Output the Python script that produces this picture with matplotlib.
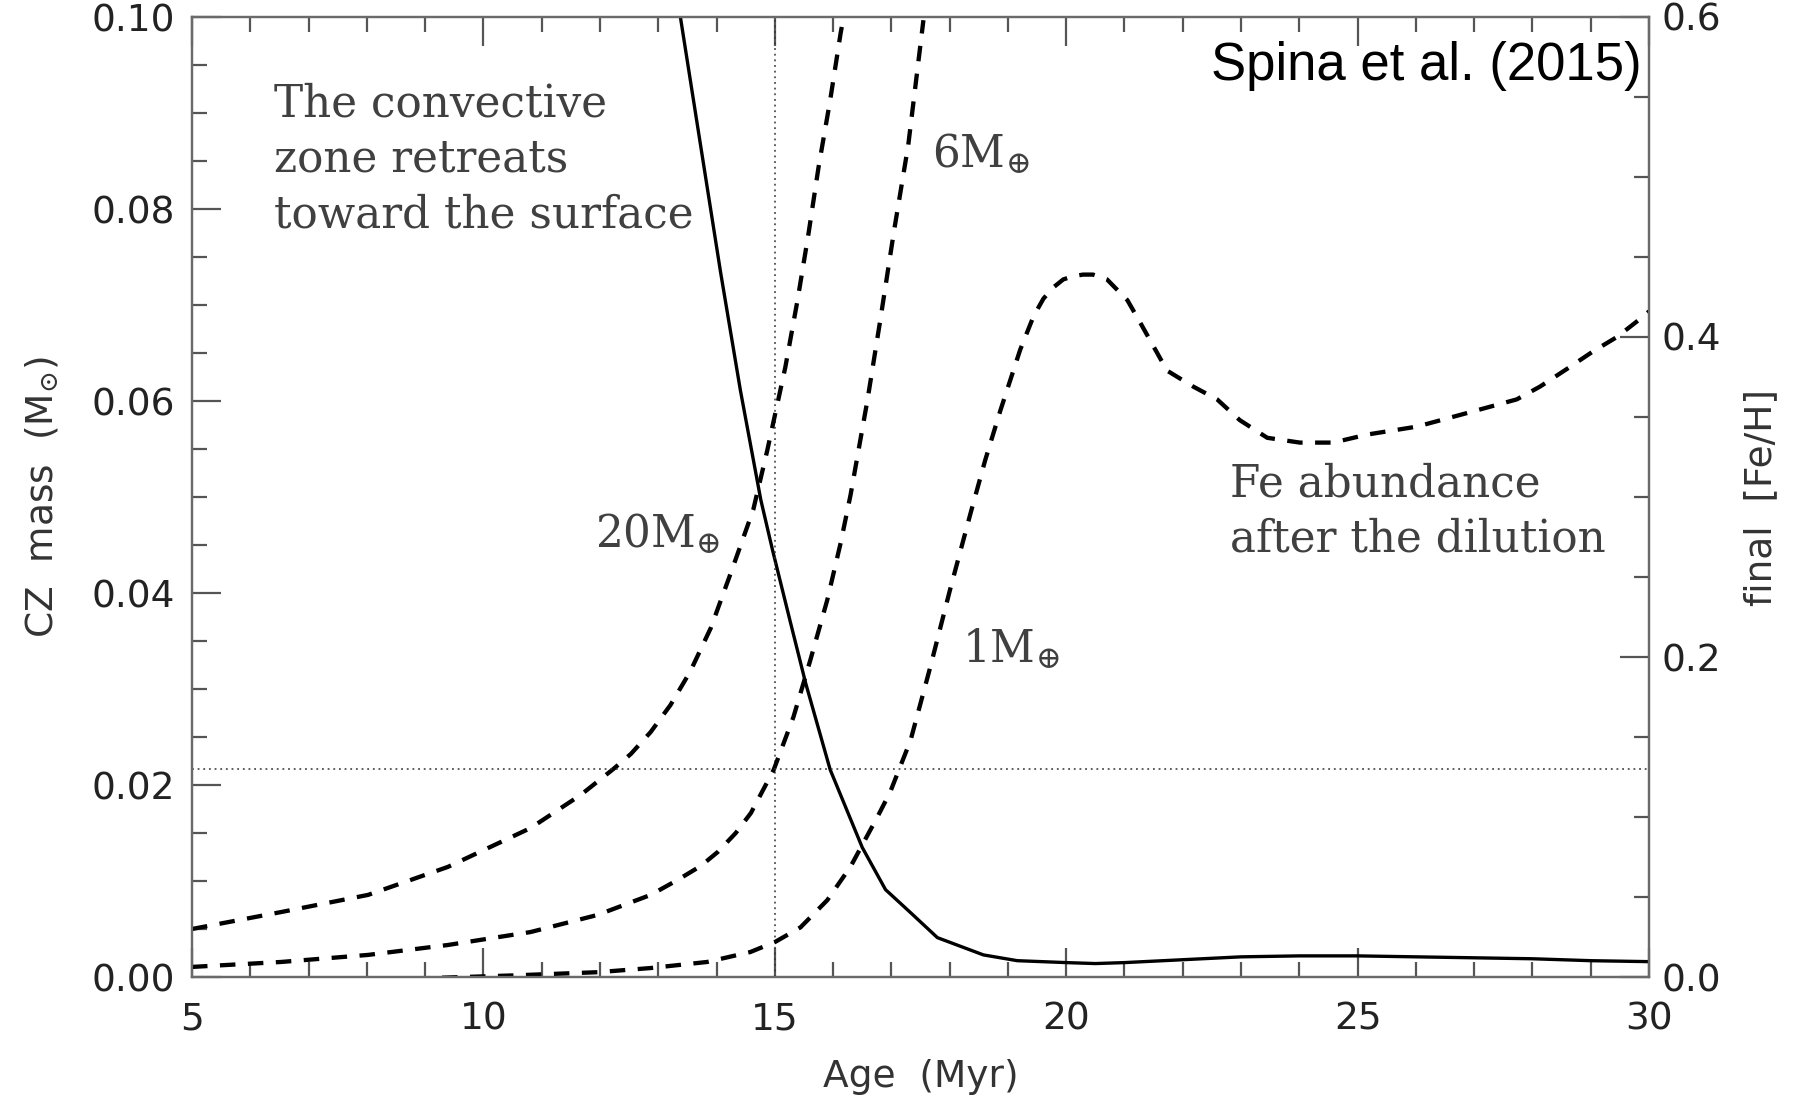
import matplotlib
matplotlib.use("Agg")
import matplotlib.pyplot as plt
from matplotlib.ticker import MultipleLocator, FormatStrFormatter

plt.rcParams['mathtext.fontset'] = 'dejavuserif'

# convective zone mass (left axis, Msun)
cz_age = [13.38, 13.73, 14.07, 14.41, 14.76, 14.96, 15.27, 15.53, 15.95, 16.50,
          16.90, 17.33, 17.79, 18.58, 19.16, 20.0, 20.5, 21.0, 22.0, 23.0, 24.0,
          25.0, 26.0, 27.0, 28.0, 29.0, 30.0]
cz_mass = [0.100, 0.0865, 0.0734, 0.0611, 0.0497, 0.0445, 0.0369, 0.0306, 0.0216, 0.0135,
           0.0091, 0.0067, 0.0041, 0.0023, 0.0017, 0.0015, 0.0014, 0.0015, 0.0018, 0.0021, 0.0022,
           0.0022, 0.0021, 0.0020, 0.0019, 0.0017, 0.0016]

# final [Fe/H] (right axis) for accreted masses
age_20 = [5.0, 6.53, 8.02, 9.39, 10.81, 11.67, 12.23, 12.53, 12.87, 13.21, 13.55, 13.90,
          14.24, 14.63, 14.87, 15.18, 15.39, 15.58, 15.75, 15.95, 16.13, 16.18]
feh_20 = [0.030, 0.0406, 0.0513, 0.0688, 0.0931, 0.1138, 0.130, 0.1394, 0.1531, 0.170, 0.191, 0.218,
          0.252, 0.292, 0.329, 0.381, 0.423, 0.465, 0.506, 0.548, 0.590, 0.600]

age_6 = [5.0, 6.53, 8.02, 9.39, 10.81, 11.96, 12.87, 13.33, 13.73, 14.02, 14.33, 14.59,
         14.98, 15.32, 15.61, 15.90, 16.13, 16.30, 16.59, 16.81, 17.04, 17.29, 17.55]
feh_6 = [0.0063, 0.0094, 0.0138, 0.020, 0.0281, 0.0388, 0.0513, 0.0606, 0.0694, 0.0781, 0.090, 0.1025,
         0.1294, 0.1625, 0.1981, 0.2356, 0.2713, 0.3013, 0.3606, 0.4106, 0.465, 0.520, 0.598]

age_1 = [8.81, 10.52, 11.96, 12.87, 13.84, 14.58, 15.01, 15.44, 15.90, 16.30, 16.76, 16.98,
         17.33, 17.67, 18.01, 18.36, 18.61, 18.87, 19.21, 19.44, 19.61, 19.78, 19.95, 20.12,
         20.29, 20.46, 20.70, 21.05, 21.27, 21.5, 21.73, 22.18, 22.59, 22.98, 23.45, 24.01,
         24.58, 25.16, 26.02, 26.88, 27.73, 28.13, 28.59, 29.04, 29.45, 29.89, 30.0]
feh_1 = [-0.001, 0.001, 0.003, 0.0056, 0.0094, 0.0156, 0.022, 0.031, 0.048, 0.069, 0.100, 0.1156,
         0.148, 0.194, 0.2425, 0.290, 0.323, 0.354, 0.392, 0.413, 0.424, 0.431, 0.436, 0.438,
         0.439, 0.439, 0.436, 0.423, 0.409, 0.394, 0.379, 0.369, 0.361, 0.348, 0.337, 0.334,
         0.334, 0.339, 0.344, 0.3525, 0.361, 0.369, 0.380, 0.391, 0.400, 0.4125, 0.416]

age_mark = 15.0
feh_mark = 0.13

fig = plt.figure(figsize=(18, 10.97), dpi=100)
ax = fig.add_axes([192 / 1800, 1 - 977 / 1097, 1457 / 1800, 960 / 1097])
ax2 = ax.twinx()

spine_col = '#6a6a6a'
for a in (ax, ax2):
    for s in a.spines.values():
        s.set_color(spine_col)
        s.set_linewidth(1.6)

ax.plot(cz_age, cz_mass, color='black', lw=2.4, solid_joinstyle='round')
for xs, ys in [(age_20, feh_20), (age_6, feh_6), (age_1, feh_1)]:
    ax2.plot(xs, ys, color='black', lw=3.1, dashes=(3.6, 2.9))

ax.axvline(age_mark, color='#333333', lw=1.1, ls=(0, (1.2, 2.5)))
ax2.axhline(feh_mark, color='#333333', lw=1.1, ls=(0, (1.2, 2.5)))

ax.set_xlim(5, 30)
ax.set_ylim(0, 0.1)
ax2.set_ylim(0, 0.6)

ax.xaxis.set_major_locator(MultipleLocator(5))
ax.xaxis.set_minor_locator(MultipleLocator(1))
ax.yaxis.set_major_locator(MultipleLocator(0.02))
ax.yaxis.set_minor_locator(MultipleLocator(0.005))
ax.yaxis.set_major_formatter(FormatStrFormatter('%.2f'))
ax2.yaxis.set_major_locator(MultipleLocator(0.2))
ax2.yaxis.set_minor_locator(MultipleLocator(0.05))
ax2.yaxis.set_major_formatter(FormatStrFormatter('%.1f'))

tick_col = '#555555'
ax.tick_params(which='both', direction='in', top=True, right=False, color=tick_col, width=1.6)
ax.tick_params(which='major', length=21)
ax.tick_params(which='minor', length=11)
ax.tick_params(axis='x', which='major', pad=18, labelsize=27, labelcolor='#222222')
ax.tick_params(axis='y', which='major', pad=12, labelsize=27, labelcolor='#222222')
ax2.tick_params(which='both', direction='in', color=tick_col, width=1.6)
ax2.tick_params(which='major', length=21, pad=9, labelsize=27, labelcolor='#222222')
ax2.tick_params(which='minor', length=11)

lab_kw = dict(fontsize=27, color='#333333', family='DejaVu Sans')
ax.set_xlabel('Age  (Myr)', labelpad=15, **lab_kw)
ax.set_ylabel(r'CZ  mass  (M$_{\odot}$)', labelpad=22, **lab_kw)
ax2.set_ylabel('final  [Fe/H]', labelpad=16, **lab_kw)

ax.text(0.9952, 0.934, 'Spina et al. (2015)', transform=ax.transAxes, ha='right',
        va='baseline', fontsize=38, family='Liberation Sans', color='black')

# va='baseline' on multi-line text anchors the last line
note_kw = dict(fontsize=31.5, family='DejaVu Serif', color='#404040', va='baseline')
ax.text(6.41, 0.0781, 'The convective\nzone retreats\ntoward the surface',
        linespacing=1.36, **note_kw)
ax.text(22.81, 0.0443, 'Fe abundance\nafter the dilution', linespacing=1.36, **note_kw)
ax.text(17.70, 0.0844, r'6M$_{\oplus}$', **note_kw)
ax.text(11.91, 0.0448, r'20M$_{\oplus}$', **note_kw)
ax.text(18.22, 0.0328, r'1M$_{\oplus}$', **note_kw)

fig.savefig('out.png', dpi=100)
